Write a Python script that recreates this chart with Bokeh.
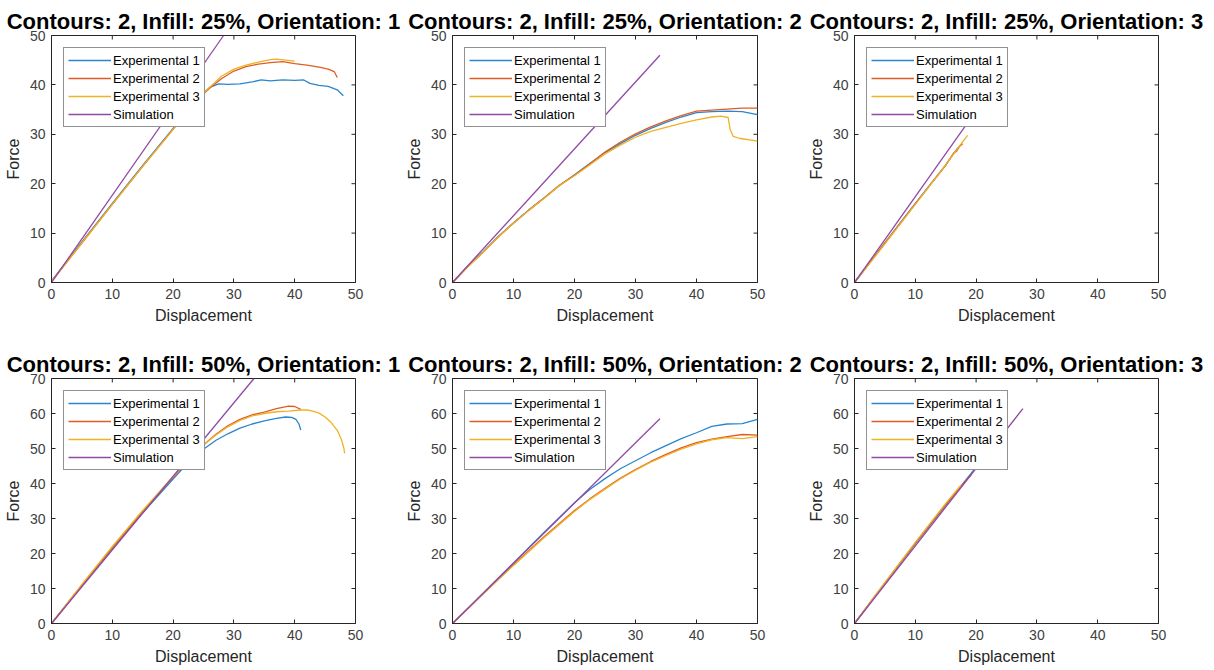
import math
from bokeh.plotting import figure
from bokeh.layouts import column, row
from bokeh.models import Range1d, FixedTicker
from bokeh.embed import file_html
from bokeh.resources import INLINE

FONT = "Liberation Sans"
COLORS = ["#2A86CC", "#E05C24", "#EEB224", "#9049A4"]
NAMES = ["Experimental 1", "Experimental 2", "Experimental 3", "Simulation"]
X_TICKS = [0, 10, 20, 30, 40, 50]
Y_TICKS_25 = [0, 10, 20, 30, 40, 50]
Y_TICKS_50 = [0, 10, 20, 30, 40, 50, 60, 70]
TITLES = [
    "Contours: 2, Infill: 25%, Orientation: 1",
    "Contours: 2, Infill: 25%, Orientation: 2",
    "Contours: 2, Infill: 25%, Orientation: 3",
    "Contours: 2, Infill: 50%, Orientation: 1",
    "Contours: 2, Infill: 50%, Orientation: 2",
    "Contours: 2, Infill: 50%, Orientation: 3",
]

# ---- Infill 25%, Orientation 1 ----
a_exp1_x = [0, 5, 10, 15, 20, 24, 26, 27.5, 29, 31, 33, 34.5, 36, 38, 40, 41.5, 42.5, 44, 45.5, 47, 48]
a_exp1_y = [0.3, 8.2, 16.0, 23.7, 31.2, 37.2, 39.5, 40.2, 40.1, 40.2, 40.6, 41.0, 40.8, 41.0, 40.9, 41.0, 40.3, 39.9, 39.7, 39.0, 37.8]
a_exp2_x = [0, 5, 10, 15, 20, 24, 26, 28, 30, 32, 34, 36, 38, 40, 42, 44, 45.5, 46.5, 47]
a_exp2_y = [0.2, 8.0, 15.8, 23.5, 31.0, 37.0, 39.3, 41.3, 42.8, 43.7, 44.2, 44.5, 44.7, 44.3, 44.0, 43.6, 43.2, 42.7, 41.5]
a_exp3_x = [0, 5, 10, 15, 20, 24, 26, 28, 30, 32, 34, 36, 37, 38.5, 40]
a_exp3_y = [0.2, 8.0, 15.8, 23.5, 31.0, 37.0, 39.5, 41.8, 43.2, 44.0, 44.6, 45.1, 45.2, 45.0, 44.8]
a_sim_x = [0, 28.3]
a_sim_y = [0, 50]

# ---- Infill 25%, Orientation 2 ----
b_exp1_x = [0, 2.5, 5, 7.5, 10, 12.5, 15, 17.5, 20, 22.5, 25, 27.5, 30, 32.5, 35, 37.5, 40, 42.5, 45, 47.5, 50]
b_exp1_y = [0, 3.3, 6.2, 9.3, 12.1, 14.7, 17.1, 19.6, 21.8, 24.1, 26.3, 28.1, 29.8, 31.2, 32.4, 33.5, 34.4, 34.6, 34.7, 34.6, 34.0]
b_exp2_x = [0, 2.5, 5, 7.5, 10, 12.5, 15, 17.5, 20, 22.5, 25, 27.5, 30, 32.5, 35, 37.5, 40, 42.5, 45, 47.5, 50]
b_exp2_y = [0, 3.2, 6.1, 9.2, 12.0, 14.6, 17.1, 19.7, 21.7, 24.0, 26.4, 28.4, 30.1, 31.5, 32.7, 33.8, 34.7, 34.9, 35.1, 35.3, 35.3]
b_exp3_x = [0, 2.5, 5, 7.5, 10, 12.5, 15, 17.5, 20, 22.5, 25, 27.5, 30, 32.5, 35, 37.5, 40, 42.5, 44, 45.2, 45.5, 46, 47, 48, 49, 50]
b_exp3_y = [0, 3.2, 6.1, 9.2, 12.0, 14.6, 17.0, 19.6, 21.6, 23.8, 26.0, 27.8, 29.4, 30.6, 31.4, 32.2, 32.9, 33.5, 33.7, 33.4, 31.0, 29.6, 29.2, 29.0, 28.8, 28.6]
b_sim_x = [0, 34.0]
b_sim_y = [0, 46.0]

# ---- Infill 25%, Orientation 3 ----
c_exp1_x = [0, 5, 10, 15, 17]
c_exp1_y = [0, 8.0, 16.0, 23.8, 27.3]
c_exp2_x = [0, 5, 10, 15, 16.3, 16.8, 17.3, 17.8]
c_exp2_y = [0, 8.0, 15.9, 23.7, 26.2, 26.6, 27.6, 28.1]
c_exp3_x = [0, 5, 10, 15, 17, 18.6]
c_exp3_y = [0, 7.8, 15.8, 23.8, 27.2, 29.8]
c_sim_x = [0, 19.0]
c_sim_y = [0, 33.0]

# ---- Infill 50%, Orientation 1 ----
d_exp1_x = [0, 5, 10, 15, 20, 23, 25, 27, 29, 31, 33, 35, 37, 38.5, 39.5, 40.2, 40.7, 41]
d_exp1_y = [0, 10.8, 21.4, 31.6, 41.3, 47.0, 49.8, 52.3, 54.2, 55.8, 57.0, 57.9, 58.6, 59.0, 58.9, 58.3, 57.0, 55.3]
d_exp2_x = [0, 5, 10, 15, 20, 23, 25, 27, 29, 31, 33, 35, 37, 39, 40, 41]
d_exp2_y = [0, 11.0, 21.7, 32.0, 41.8, 47.4, 51.0, 54.0, 56.5, 58.3, 59.6, 60.4, 61.4, 62.1, 62.0, 61.2]
d_exp3_x = [0, 5, 10, 15, 20, 23, 25, 27, 29, 31, 33, 35, 37, 39, 41, 42, 43, 44, 45, 46, 47, 47.7, 48.1, 48.2]
d_exp3_y = [0, 11.2, 22.0, 32.3, 42.0, 47.6, 51.0, 53.8, 56.2, 58.0, 59.3, 60.0, 60.5, 60.7, 61.0, 61.0, 60.7, 60.1, 59.0, 57.4, 55.2, 52.5, 50.0, 48.6]
d_sim_x = [0, 33.3]
d_sim_y = [0, 70.0]

# ---- Infill 50%, Orientation 2 ----
e_exp1_x = [0, 5, 10, 15, 20, 22.5, 25, 27.5, 30, 32.5, 35, 37.5, 40, 42.5, 45, 47.5, 50]
e_exp1_y = [0, 8.6, 17.3, 26.0, 34.5, 38.3, 41.4, 44.2, 46.5, 48.8, 50.8, 52.8, 54.5, 56.3, 57.0, 57.1, 58.3]
e_exp2_x = [0, 5, 10, 15, 20, 22.5, 25, 27.5, 30, 32.5, 35, 37.5, 40, 42.5, 45, 47.5, 50]
e_exp2_y = [0, 8.4, 16.8, 24.8, 32.3, 35.6, 38.6, 41.5, 44.0, 46.3, 48.3, 50.2, 51.7, 52.7, 53.4, 54.0, 53.8]
e_exp3_x = [0, 5, 10, 15, 20, 22.5, 25, 27.5, 30, 32.5, 35, 37.5, 40, 42.5, 45, 47.5, 50]
e_exp3_y = [0, 8.4, 16.6, 24.5, 32.0, 35.4, 38.4, 41.3, 43.8, 46.1, 48.0, 49.8, 51.3, 52.5, 53.1, 52.8, 53.4]
e_sim_x = [0, 34.0]
e_sim_y = [0, 58.5]

# ---- Infill 50%, Orientation 3 ----
f_exp1_x = [0, 5, 10, 15, 19.6]
f_exp1_y = [0, 11.5, 22.8, 33.8, 43.8]
f_exp2_x = [0, 5, 10, 15, 18, 19.2]
f_exp2_y = [0, 11.6, 23.0, 34.0, 40.2, 42.5]
f_exp3_x = [0, 5, 10, 15, 17.5]
f_exp3_y = [0, 11.7, 23.2, 34.3, 39.5]
f_sim_x = [0, 27.7]
f_sim_y = [0, 61.4]

PANELS = [
    [(a_exp1_x, a_exp1_y), (a_exp2_x, a_exp2_y), (a_exp3_x, a_exp3_y), (a_sim_x, a_sim_y)],
    [(b_exp1_x, b_exp1_y), (b_exp2_x, b_exp2_y), (b_exp3_x, b_exp3_y), (b_sim_x, b_sim_y)],
    [(c_exp1_x, c_exp1_y), (c_exp2_x, c_exp2_y), (c_exp3_x, c_exp3_y), (c_sim_x, c_sim_y)],
    [(d_exp1_x, d_exp1_y), (d_exp2_x, d_exp2_y), (d_exp3_x, d_exp3_y), (d_sim_x, d_sim_y)],
    [(e_exp1_x, e_exp1_y), (e_exp2_x, e_exp2_y), (e_exp3_x, e_exp3_y), (e_sim_x, e_sim_y)],
    [(f_exp1_x, f_exp1_y), (f_exp2_x, f_exp2_y), (f_exp3_x, f_exp3_y), (f_sim_x, f_sim_y)],
]

AX_COLOR = "#262626"
X_MAX = 50


def style_axis(ax, ticks):
    ax.ticker = FixedTicker(ticks=ticks)
    ax.major_tick_in = 4
    ax.major_tick_out = 0
    ax.minor_tick_line_color = None
    ax.major_tick_line_color = AX_COLOR
    ax.axis_line_color = AX_COLOR
    ax.major_label_text_font = FONT
    ax.major_label_text_color = "#404040"
    ax.major_label_text_font_size = "14px"
    ax.major_label_standoff = 6
    ax.axis_label_text_font = FONT
    ax.axis_label_text_font_size = "16px"
    ax.axis_label_text_font_style = "normal"
    ax.axis_label_text_color = AX_COLOR
    ax.axis_label_standoff = 5


def panel(idx, ymax, yticks, fw, fh, left, right, top, bottom):
    p = figure(
        frame_width=fw, frame_height=fh,
        min_border_left=left, min_border_right=right,
        min_border_top=top, min_border_bottom=bottom,
        x_range=Range1d(0, X_MAX), y_range=Range1d(0, ymax),
        output_backend="svg", toolbar_location=None, title=TITLES[idx],
    )
    for (x, y), c, n in zip(PANELS[idx], COLORS, NAMES):
        p.line(x, y, line_color=c, line_width=1.3, legend_label=n)

    # inward tick marks on the top and right edges (MATLAB "box on" style);
    # half of each dash falls outside the frame and is clipped away
    p.scatter(X_TICKS, [ymax] * len(X_TICKS), marker="dash", size=8,
              angle=math.pi / 2, line_color=AX_COLOR, line_width=1)
    p.scatter([X_MAX] * len(yticks), yticks, marker="dash", size=8,
              line_color=AX_COLOR, line_width=1)

    p.title.text_font = FONT
    p.title.text_font_size = "22px"
    p.title.text_font_style = "bold"
    p.title.text_color = "#000000"
    p.title.align = "center"
    p.title.standoff = 4

    p.xgrid.visible = False
    p.ygrid.visible = False
    p.outline_line_color = AX_COLOR
    p.outline_line_alpha = 1.0
    p.outline_line_width = 1

    style_axis(p.xaxis[0], X_TICKS)
    style_axis(p.yaxis[0], yticks)
    p.xaxis.axis_label = "Displacement"
    p.yaxis.axis_label = "Force"

    lg = p.legend[0]
    lg.location = "top_left"
    lg.margin = 12
    lg.padding = 4
    lg.spacing = 2
    lg.glyph_width = 43
    lg.glyph_height = 16
    lg.label_height = 16
    lg.label_standoff = 2
    lg.label_text_font = FONT
    lg.label_text_font_size = "13px"
    lg.label_text_color = "#000000"
    lg.border_line_color = AX_COLOR
    lg.border_line_width = 1
    lg.background_fill_color = "white"
    lg.background_fill_alpha = 1.0
    return p


p1 = panel(0, 50, Y_TICKS_25, 304, 247, 51, 47, 35, 53)
p2 = panel(1, 50, Y_TICKS_25, 305, 247, 50, 47, 35, 53)
p3 = panel(2, 50, Y_TICKS_25, 304, 247, 50, 56, 35, 53)
p4 = panel(3, 70, Y_TICKS_50, 304, 245, 51, 47, 43, 47)
p5 = panel(4, 70, Y_TICKS_50, 305, 245, 50, 47, 43, 47)
p6 = panel(5, 70, Y_TICKS_50, 304, 245, 50, 56, 43, 47)

layout = column(row(p1, p2, p3), row(p4, p5, p6))
open("out.html", "w").write(file_html(layout, INLINE))
